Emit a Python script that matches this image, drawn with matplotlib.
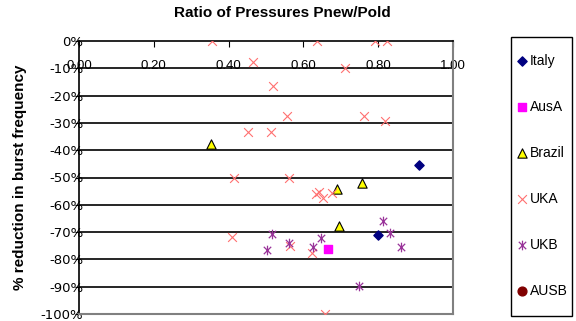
import numpy as np
import matplotlib.pyplot as plt
from matplotlib.path import Path
from matplotlib.patches import Rectangle
from matplotlib.ticker import FuncFormatter

plt.rcParams['font.family'] = ['Liberation Sans', 'DejaVu Sans']

# ratio Pnew/Pold vs % reduction in burst frequency
italy_x = [0.909, 0.800]
italy_y = [-45.4, -71.2]

ausa_x = [0.666]
ausa_y = [-76.2]

brazil_x = [0.352, 0.690, 0.757, 0.695]
brazil_y = [-37.7, -54.3, -52.0, -67.8]

uka_x = [0.356, 0.637, 0.791, 0.824, 0.466, 0.711, 0.519, 0.557, 0.763, 0.819,
         0.452, 0.513, 0.414, 0.561, 0.633, 0.642, 0.652, 0.676, 0.409, 0.564,
         0.623, 0.658]
uka_y = [0.0, 0.0, 0.0, 0.0, -7.7, -10.0, -16.5, -27.4, -27.4, -29.4,
         -33.3, -33.3, -50.3, -50.0, -56.2, -55.3, -57.5, -55.5, -71.8, -75.0,
         -77.6, -100.0]

ukb_x = [0.516, 0.502, 0.561, 0.647, 0.626, 0.813, 0.832, 0.861, 0.749]
ukb_y = [-70.7, -76.6, -74.0, -72.2, -75.4, -66.0, -70.2, -75.4, -89.7]

ausb_x = []
ausb_y = []

# Excel style asterisk: x with a vertical bar
star = Path([(-1, -1), (1, 1), (-1, 1), (1, -1), (0, -1.3), (0, 1.3)],
            [Path.MOVETO, Path.LINETO, Path.MOVETO, Path.LINETO, Path.MOVETO, Path.LINETO])

W, H = 576, 321
fig = plt.figure(figsize=(W / 100, H / 100), dpi=100)
ax = fig.add_axes([79 / W, 1 - 314 / H, 374 / W, 273 / H])

for yv in range(-10, -100, -10):
    ax.axhline(yv, color='black', lw=1.2, zorder=1)

ax.scatter(italy_x, italy_y, marker='D', s=22, color='#000080', label='Italy', zorder=3)
ax.scatter(ausa_x, ausa_y, marker='s', s=40, color='#ff00ff', label='AusA', zorder=3)
ax.scatter(brazil_x, brazil_y, marker='^', s=45, color='#ffff00', edgecolors='black',
           linewidths=0.8, label='Brazil', zorder=3)
ax.scatter(uka_x, uka_y, marker='x', s=40, color='#ff7070', linewidths=0.8, label='UKA', zorder=3)
ax.scatter(ukb_x, ukb_y, marker=star, s=48, color='#993399', linewidths=0.9, label='UKB', zorder=3)
ax.scatter(ausb_x, ausb_y, marker='o', s=40, color='#800000', label='AUSB', zorder=3)

ax.set_xlim(0, 1)
ax.set_ylim(-100, 0)
ax.set_xticks(np.arange(0, 1.01, 0.2))
ax.set_yticks(np.arange(-100, 1, 10))
ax.xaxis.set_major_formatter(FuncFormatter(lambda v, p: f'{v:.2f}'))
ax.yaxis.set_major_formatter(FuncFormatter(lambda v, p: f'{v:.0f}%'))
ax.xaxis.tick_top()
ax.tick_params(axis='x', direction='in', length=4, pad=-22, labelsize=9.5)
ax.tick_params(axis='y', direction='out', length=3, pad=-6, labelsize=9.5,
               labelfontfamily='DejaVu Sans')

for side in ['bottom', 'right']:
    ax.spines[side].set_color('#808080')
    ax.spines[side].set_linewidth(1.5)
ax.spines['top'].set_linewidth(1.2)
ax.spines['left'].set_linewidth(1.2)

fig.text(282 / W, 1 - 13 / H, 'Ratio of Pressures Pnew/Pold', fontsize=11,
         fontweight='bold', ha='center', va='center')
fig.text(20 / W, 1 - 177 / H, '% reduction in burst frequency', fontsize=11,
         fontweight='bold', ha='center', va='center', rotation=90)

# legend box drawn separately so its size matches the reference
fig.patches.append(Rectangle((511 / W, 1 - 316 / H), 61 / W, 279 / H, transform=fig.transFigure,
                             facecolor='white', edgecolor='black', lw=1.0, zorder=0))
fig.legend(loc='upper left', bbox_to_anchor=(514 / W, 1 - 54 / H), fontsize=10,
           frameon=False, labelspacing=2.3, handletextpad=0.05, handlelength=1.1,
           borderpad=0, borderaxespad=0)

fig.savefig('out.png', dpi=100)
